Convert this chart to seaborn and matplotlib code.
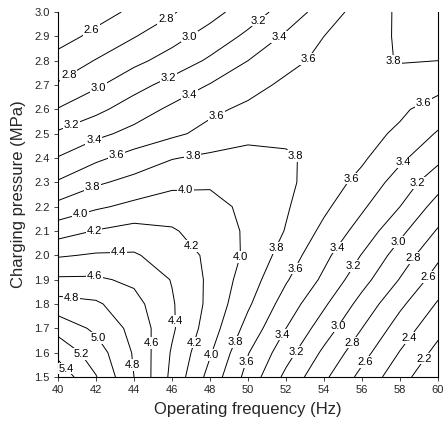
import numpy as np
import pandas as pd
import matplotlib
matplotlib.use('Agg')
import matplotlib.pyplot as plt
import seaborn as sns

# operating frequency (Hz) and charging pressure (MPa) grid
freq = [40, 42, 44, 46, 48, 50, 52, 54, 56, 58, 60]
pressure = [1.5, 1.6, 1.7, 1.8, 1.9, 2.0, 2.1, 2.2, 2.3, 2.4, 2.5, 2.6, 2.7, 2.8, 2.9, 3.0]

# values, one row per pressure
p150 = [5.54, 5.21, 4.80, 4.35, 3.93, 3.53, 3.15, 2.84, 2.54, 2.28, 2.02]
p160 = [5.34, 5.10, 4.78, 4.38, 4.02, 3.61, 3.28, 2.96, 2.67, 2.39, 2.14]
p170 = [5.13, 4.96, 4.74, 4.43, 4.10, 3.73, 3.40, 3.10, 2.80, 2.51, 2.26]
p180 = [4.88, 4.83, 4.67, 4.42, 4.15, 3.83, 3.51, 3.23, 2.93, 2.64, 2.38]
p190 = [4.63, 4.63, 4.56, 4.39, 4.16, 3.90, 3.62, 3.36, 3.07, 2.79, 2.51]
p200 = [4.38, 4.42, 4.42, 4.31, 4.16, 3.96, 3.71, 3.45, 3.19, 2.91, 2.64]
p210 = [4.11, 4.21, 4.27, 4.22, 4.11, 3.97, 3.79, 3.55, 3.32, 3.05, 2.78]
p220 = [3.86, 3.97, 4.05, 4.10, 4.07, 3.95, 3.82, 3.64, 3.43, 3.20, 2.92]
p230 = [3.62, 3.77, 3.86, 3.95, 3.97, 3.95, 3.84, 3.70, 3.54, 3.31, 3.08]
p240 = [3.41, 3.56, 3.68, 3.79, 3.84, 3.87, 3.83, 3.73, 3.63, 3.44, 3.25]
p250 = [3.23, 3.35, 3.46, 3.56, 3.66, 3.74, 3.75, 3.72, 3.66, 3.57, 3.38]
p260 = [3.01, 3.15, 3.30, 3.44, 3.56, 3.64, 3.68, 3.70, 3.68, 3.63, 3.52]
p270 = [2.82, 2.97, 3.13, 3.27, 3.41, 3.53, 3.64, 3.70, 3.72, 3.72, 3.66]
p280 = [2.67, 2.81, 2.95, 3.08, 3.23, 3.40, 3.54, 3.65, 3.75, 3.81, 3.80]
p290 = [2.52, 2.65, 2.79, 2.93, 3.08, 3.24, 3.43, 3.60, 3.73, 3.82, 3.84]
p300 = [2.42, 2.52, 2.64, 2.78, 2.93, 3.10, 3.28, 3.49, 3.69, 3.83, 3.86]

levels = [2.2, 2.4, 2.6, 2.8, 3.0, 3.2, 3.4, 3.6, 3.8, 4.0, 4.2, 4.4, 4.6, 4.8, 5.0, 5.2, 5.4]

# where the contour labels sit (freq, pressure)
label_spots = [
    (41.8, 2.92), (45.7, 2.97), (40.5, 2.75), (46.9, 2.90), (42.1, 2.69),
    (50.6, 2.96), (45.8, 2.73), (40.8, 2.52), (51.7, 2.89), (46.9, 2.66),
    (41.9, 2.47), (53.1, 2.81), (48.3, 2.58), (43.1, 2.41), (57.3, 2.78),
    (52.7, 2.43), (47.1, 2.41), (41.8, 2.28), (46.7, 2.28), (41.2, 2.17),
    (41.9, 2.10), (47.2, 2.05), (43.2, 2.02), (41.9, 1.93), (40.7, 1.83),
    (42.3, 1.67), (41.3, 1.60), (40.5, 1.54), (46.3, 1.73), (45.1, 1.64),
    (44.1, 1.55), (47.2, 1.64), (48.1, 1.59), (49.7, 1.99), (51.5, 2.03),
    (49.4, 1.64), (52.6, 1.94), (50.0, 1.56), (55.5, 2.31), (59.3, 2.62),
    (58.2, 2.38), (54.7, 2.03), (51.9, 1.67), (58.9, 2.30), (55.5, 1.96),
    (52.6, 1.60), (58.0, 2.05), (54.7, 1.71), (58.7, 1.99), (55.5, 1.64),
    (59.5, 1.91), (56.2, 1.56), (58.5, 1.66), (59.4, 1.57),
]

rows = [p150, p160, p170, p180, p190, p200, p210, p220,
        p230, p240, p250, p260, p270, p280, p290, p300]
grid = pd.DataFrame(rows, index=pressure, columns=freq)

sns.set_style('ticks')
plt.rcParams['font.family'] = ['Liberation Sans', 'DejaVu Sans']

fig = plt.figure(figsize=(4.43, 4.28), dpi=100)
ax = fig.add_axes([58 / 443, 1 - 377 / 428, 380 / 443, 365 / 428])

cs = ax.contour(grid.columns.values, grid.index.values, grid.values,
                levels=levels, colors='black', linewidths=0.7)
labels = ax.clabel(cs, fmt='%.1f', fontsize=8, inline=False, manual=label_spots)
for t in labels:
    # upright labels on a white patch, like the original
    t.set_rotation(0)
    t.set_bbox(dict(facecolor='white', edgecolor='none', pad=0.6))

ax.set_xlim(40, 60)
ax.set_ylim(1.5, 3.0)
ax.set_xticks(freq)
ax.set_yticks(pressure)
ax.set_yticklabels(['%.1f' % p for p in pressure])
ax.tick_params(labelsize=8, length=3, width=0.6, direction='out', pad=3)
ax.set_xlabel('Operating frequency (Hz)', fontsize=12, labelpad=5)
ax.set_ylabel('Charging pressure (MPa)', fontsize=12, labelpad=6)

for side in ['left', 'bottom', 'right']:
    ax.spines[side].set_linewidth(0.8)
    ax.spines[side].set_color('black')
ax.spines['top'].set_visible(False)

fig.savefig('out.png', dpi=100, facecolor='w')
